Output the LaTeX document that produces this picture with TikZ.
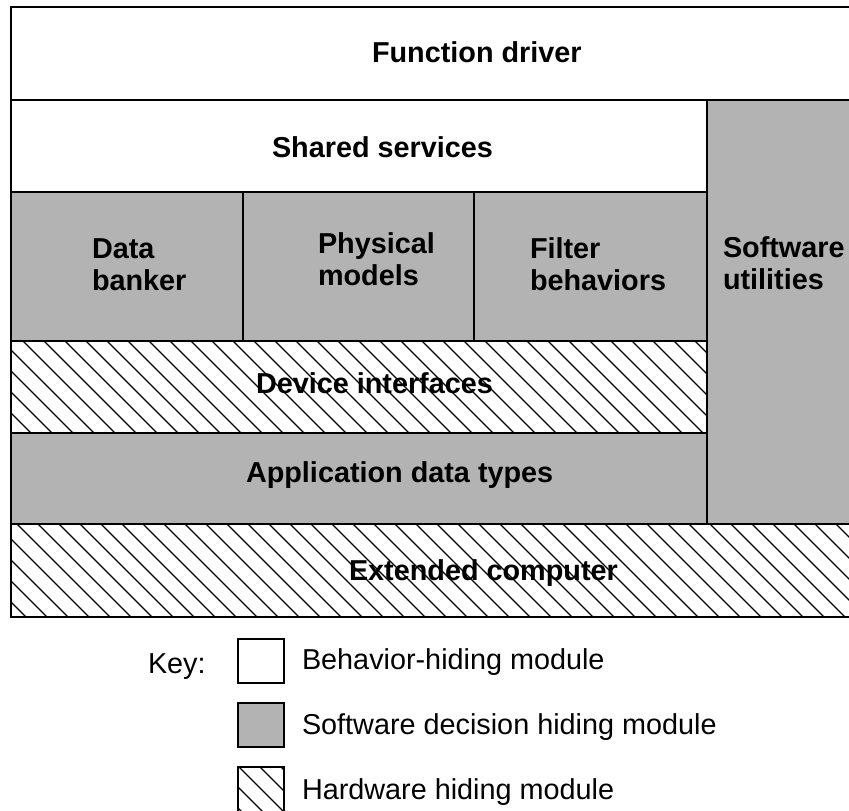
\documentclass[tikz,border=0pt]{standalone}
\usepackage{fontspec}
\setmainfont{Liberation Sans}
\definecolor{sgray}{RGB}{179,179,179}
\newcommand{\hatchin}[4]{%
  \begin{scope}
    \clip (#1,#2) rectangle (#3,#4);
    \foreach \k in {-45,...,42} {
      \draw[hatchline] (0,3+21*\k) -- (900,903+21*\k);
    }
  \end{scope}}
\begin{document}
\begin{tikzpicture}[x=1pt,y=-1pt,
  border/.style={draw=black,line width=2.5pt},
  hatchline/.style={draw=black,line width=1.4pt},
  graybox/.style={fill=sgray},
  whitebox/.style={fill=white},
  lab/.style={font=\fontsize{28.8}{33}\selectfont\bfseries,anchor=base west,inner sep=0pt,outer sep=0pt},
  keylab/.style={font=\fontsize{28.8}{33}\selectfont,anchor=base west,inner sep=0pt,outer sep=0pt}]
\useasboundingbox (0,0) rectangle (849,811);
% fills
\fill[whitebox] (11,7) rectangle (880,100);
\fill[whitebox] (11,100) rectangle (707,192);
\fill[graybox] (707,100) rectangle (880,524);
\fill[graybox] (11,192) rectangle (707,341);
\fill[whitebox] (11,341) rectangle (707,433);
\hatchin{11}{341}{707}{433}
\fill[graybox] (11,433) rectangle (707,524);
\fill[whitebox] (11,524) rectangle (880,617);
\hatchin{11}{524}{880}{617}
% borders
\draw[border] (880,7) -- (11,7) -- (11,617) -- (880,617);
\draw[border] (11,100) -- (880,100);
\draw[border] (11,192) -- (707,192);
\draw[border] (707,100) -- (707,524);
\draw[border] (243,192) -- (243,341);
\draw[border] (474,192) -- (474,341);
\draw[border] (11,341) -- (707,341);
\draw[border] (11,433) -- (707,433);
\draw[border] (11,524) -- (880,524);
% labels
\node[lab] (fd) at (372,62) {Function driver};
\node[lab] (ss) at (272,157) {Shared services};
\node[lab] (db1) at (92,258) {Data};
\node[lab] (db2) at (92,290) {banker};
\node[lab] (pm1) at (318,253) {Physical};
\node[lab] (pm2) at (318,285) {models};
\node[lab] (fb1) at (530,258) {Filter};
\node[lab] (fb2) at (530,290) {behaviors};
\node[lab] (su1) at (723,257) {Software};
\node[lab] (su2) at (723,289) {utilities};
\node[lab] (di) at (256,393) {Device interfaces};
\node[lab] (ad) at (246,482) {Application data types};
\node[lab] (ec) at (349,580) {Extended computer};
% key
\node[keylab] (key) at (148,673) {Key:};
\fill[whitebox] (238,639) rectangle (284,683);
\draw[border] (238,639) rectangle (284,683);
\fill[graybox] (238,703) rectangle (284,747);
\draw[border] (238,703) rectangle (284,747);
\fill[whitebox] (238,767) rectangle (284,813);
\hatchin{238}{767}{284}{813}
\draw[border] (238,767) rectangle (284,813);
\node[keylab] (k1) at (302,669) {Behavior-hiding module};
\node[keylab] (k2) at (302,734) {Software decision hiding module};
\node[keylab] (k3) at (302,799) {Hardware hiding module};
\end{tikzpicture}
\end{document}
